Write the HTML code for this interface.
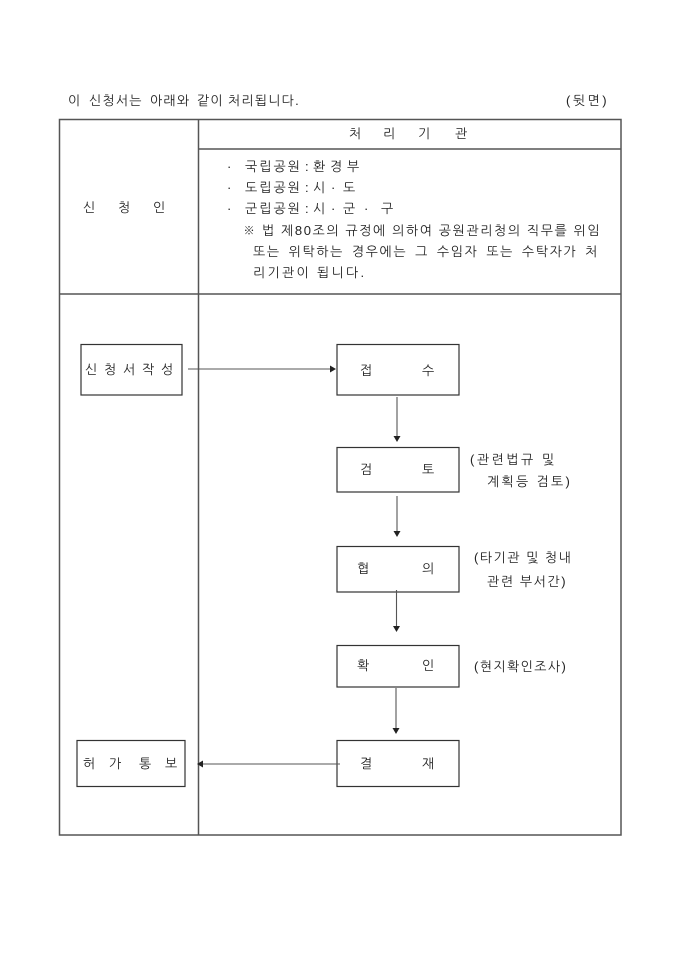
<!DOCTYPE html>
<html>
<head>
<meta charset="utf-8">
<style>
html,body{margin:0;padding:0;background:#fff;}
body{width:680px;height:962px;position:relative;overflow:hidden;
font-family:"Liberation Sans","NanumGothic","Noto Sans CJK KR",sans-serif;color:#222;}
svg{position:absolute;left:0;top:0;}
.t{position:absolute;font-size:13px;line-height:16px;white-space:nowrap;}
.ls{letter-spacing:2px;}
.j{position:absolute;font-size:13px;line-height:16px;white-space:nowrap;text-align:justify;text-align-last:justify;letter-spacing:1.6px;}
</style>
</head>
<body>
<svg width="680" height="962" viewBox="0 0 680 962">
  <!-- table -->
  <g stroke="#555" stroke-width="1.5" fill="none">
    <rect x="59.5" y="119.5" width="561.5" height="715.5"/>
    <line x1="198.5" y1="119.5" x2="198.5" y2="835"/>
    <line x1="198.5" y1="149" x2="621" y2="149"/>
    <line x1="59.5" y1="294" x2="621" y2="294"/>
  </g>
  <!-- boxes -->
  <g stroke="#333" stroke-width="1.2" fill="none">
    <rect x="81" y="344.5" width="101" height="50.5"/>
    <rect x="337" y="344.5" width="122" height="50.5"/>
    <rect x="337" y="447.5" width="122" height="44.5"/>
    <rect x="337" y="546.5" width="122" height="45.5"/>
    <rect x="337" y="645.5" width="122" height="41.5"/>
    <rect x="337" y="740.5" width="122" height="46"/>
    <rect x="77" y="740.5" width="108" height="46"/>
  </g>
  <!-- connectors -->
  <g stroke="#555" stroke-width="1.1" fill="none">
    <line x1="188" y1="369" x2="331" y2="369"/>
    <line x1="397" y1="397" x2="397" y2="437"/>
    <line x1="397" y1="496" x2="397" y2="531"/>
    <line x1="396.5" y1="590" x2="396.5" y2="627"/>
    <line x1="396" y1="688" x2="396" y2="729"/>
    <line x1="202" y1="764" x2="340" y2="764"/>
  </g>
  <g fill="#222">
    <polygon points="336,369 330,365.5 330,372.5"/>
    <polygon points="397,442 393.5,436 400.5,436"/>
    <polygon points="397,537 393.5,531 400.5,531"/>
    <polygon points="396.5,632 393,626 400,626"/>
    <polygon points="396,734 392.5,728 399.5,728"/>
    <polygon points="197,764 203,760.5 203,767.5"/>
  </g>
</svg>

<!-- title -->
<div class="t" style="left:68px;top:93px;">이</div>
<div class="t" style="left:89px;top:93px;letter-spacing:1.2px;">신청서는</div>
<div class="t" style="left:150px;top:93px;letter-spacing:1.2px;">아래와</div>
<div class="t" style="left:197px;top:93px;letter-spacing:1.2px;">같이</div>
<div class="t" style="left:228px;top:93px;letter-spacing:1.2px;">처리됩니다.</div>
<div class="t" style="left:566px;top:93px;letter-spacing:2.5px;">(뒷면)</div>

<!-- header -->
<div class="t" style="left:349px;top:126px;">처</div>
<div class="t" style="left:383px;top:126px;">리</div>
<div class="t" style="left:418px;top:126px;">기</div>
<div class="t" style="left:455px;top:126px;">관</div>

<div class="t" style="left:83px;top:200px;">신</div>
<div class="t" style="left:118px;top:200px;">청</div>
<div class="t" style="left:153px;top:200px;">인</div>

<!-- bullet rows -->
<div class="t" style="left:227px;top:159px;">·</div>
<div class="t ls" style="left:245px;top:159px;">국립공원</div>
<div class="t" style="left:305px;top:159px;">:</div>
<div class="t" style="left:313px;top:159px;">환</div>
<div class="t" style="left:330px;top:159px;">경</div>
<div class="t" style="left:347px;top:159px;">부</div>

<div class="t" style="left:227px;top:180px;">·</div>
<div class="t ls" style="left:245px;top:180px;">도립공원</div>
<div class="t" style="left:305px;top:180px;">:</div>
<div class="t" style="left:313px;top:180px;">시</div>
<div class="t" style="left:331px;top:180px;">·</div>
<div class="t" style="left:343px;top:180px;">도</div>

<div class="t" style="left:227px;top:201px;">·</div>
<div class="t ls" style="left:245px;top:201px;">군립공원</div>
<div class="t" style="left:305px;top:201px;">:</div>
<div class="t" style="left:313px;top:201px;">시</div>
<div class="t" style="left:331px;top:201px;">·</div>
<div class="t" style="left:343px;top:201px;">군</div>
<div class="t" style="left:364px;top:201px;">·</div>
<div class="t" style="left:381px;top:201px;">구</div>

<div class="j" style="left:243px;top:223px;width:356px;">※ 법 제80조의 규정에 의하여 공원관리청의 직무를 위임</div>
<div class="j" style="left:253px;top:244px;width:346px;">또는 위탁하는 경우에는 그 수임자 또는 수탁자가 처</div>
<div class="t" style="left:253px;top:265px;letter-spacing:2.3px;">리기관이 됩니다.</div>

<!-- flow labels -->
<div class="t" style="left:85px;top:362px;">신</div>
<div class="t" style="left:104px;top:362px;">청</div>
<div class="t" style="left:123px;top:362px;">서</div>
<div class="t" style="left:142px;top:362px;">작</div>
<div class="t" style="left:161px;top:362px;">성</div>

<div class="t" style="left:360px;top:363px;">접</div>
<div class="t" style="left:422px;top:363px;">수</div>

<div class="t" style="left:360px;top:462px;">검</div>
<div class="t" style="left:422px;top:462px;">토</div>

<div class="t" style="left:357px;top:561px;">협</div>
<div class="t" style="left:422px;top:561px;">의</div>

<div class="t" style="left:357px;top:658px;">확</div>
<div class="t" style="left:422px;top:658px;">인</div>

<div class="t" style="left:360px;top:756px;">결</div>
<div class="t" style="left:422px;top:756px;">재</div>

<div class="t" style="left:83px;top:756px;">허</div>
<div class="t" style="left:109px;top:756px;">가</div>
<div class="t" style="left:139px;top:756px;">통</div>
<div class="t" style="left:165px;top:756px;">보</div>

<!-- annotations -->
<div class="t" style="left:470px;top:452px;letter-spacing:2.5px;">(관련법규 및</div>
<div class="t" style="left:487px;top:474px;letter-spacing:2.3px;">계획등 검토)</div>
<div class="t" style="left:474px;top:550px;letter-spacing:1.5px;">(타기관 및 청내</div>
<div class="t" style="left:487px;top:574px;letter-spacing:1.6px;">관련 부서간)</div>
<div class="t" style="left:474px;top:659px;letter-spacing:1.4px;">(현지확인조사)</div>
</body>
</html>
